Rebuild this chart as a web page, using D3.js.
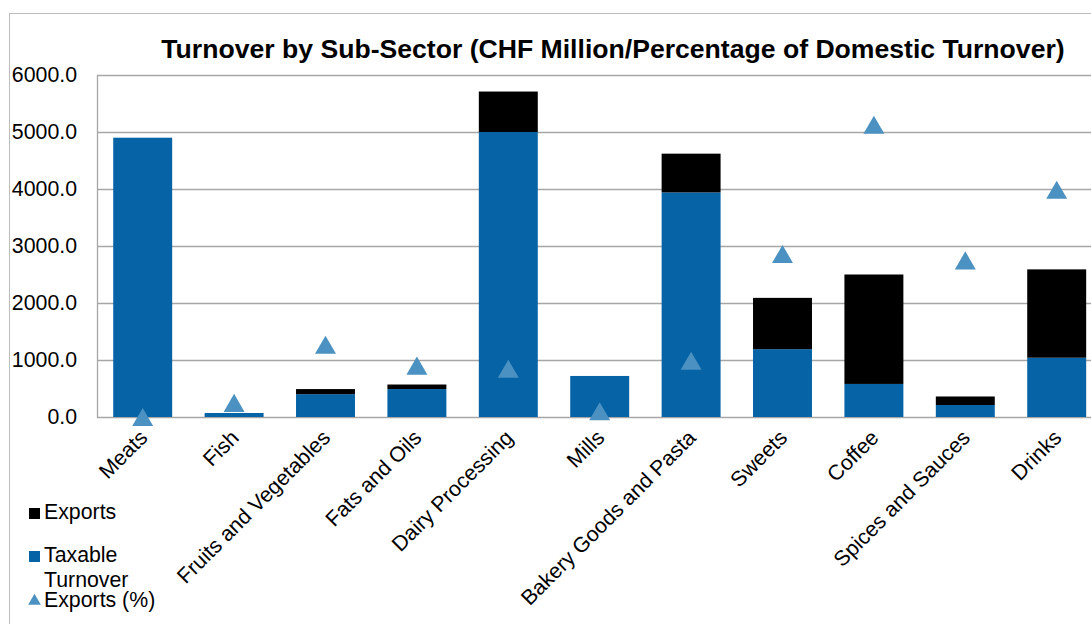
<!DOCTYPE html>
<html>
<head>
<meta charset="utf-8">
<script src="https://cdn.jsdelivr.net/npm/d3@7"></script>
<style>
  html, body { margin: 0; padding: 0; background: #fff; }
  svg { display: block; }
  text { font-family: "Liberation Sans", Arial, sans-serif; fill: #000; }
</style>
</head>
<body>
<svg id="chart" width="1091" height="624"></svg>
<script>
const categories = ["Meats", "Fish", "Fruits and Vegetables", "Fats and Oils", "Dairy Processing", "Mills", "Bakery Goods and Pasta", "Sweets", "Coffee", "Spices and Sauces", "Drinks"];
const taxableTurnover = [4900, 70, 400, 490, 5000, 720, 3940, 1190, 580, 210, 1040];
const exportsValues = [0, 0, 90, 80, 710, 0, 680, 900, 1920, 150, 1550];
const exportsPct = [0, 3.7, 19.0, 13.5, 12.7, 1.5, 14.8, 42.9, 76.9, 41.2, 59.8];
const yTicks = [0, 1000, 2000, 3000, 4000, 5000, 6000];
const title = "Turnover by Sub-Sector (CHF Million/Percentage of Domestic Turnover)";
const legendItems = [
  { key: "Exports", lines: ["Exports"] },
  { key: "Taxable", lines: ["Taxable", "Turnover"] },
  { key: "Pct", lines: ["Exports (%)"] }
];

const colors = { taxable: "#0563a6", exports: "#000000", pct: "#4b91c1", grid: "#a6a6a6", border: "#bdbdbd" };

const svg = d3.select("#chart");
const plot = { left: 97, top: 75, bottom: 417 };
const step = 91.4;

const x = d3.scaleBand()
  .domain(categories)
  .range([plot.left, plot.left + step * categories.length])
  .paddingInner(0.355)
  .paddingOuter(0.1775);

const y = d3.scaleLinear().domain([0, 6000]).range([plot.bottom, plot.top]);
const y2 = d3.scaleLinear().domain([0, 90]).range([plot.bottom, plot.top]);

// outer chart border
svg.append("rect")
  .attr("x", 9.5).attr("y", 13.5)
  .attr("width", 1200).attr("height", 700)
  .attr("fill", "none").attr("stroke", colors.border).attr("stroke-width", 1);

// gridlines
svg.append("g").selectAll("line").data(yTicks).join("line")
  .attr("x1", plot.left).attr("x2", 1091)
  .attr("y1", d => Math.round(y(d)) + 0.5).attr("y2", d => Math.round(y(d)) + 0.5)
  .attr("stroke", colors.grid).attr("stroke-width", 1.3);

// y axis line
svg.append("line")
  .attr("x1", plot.left + 0.5).attr("x2", plot.left + 0.5)
  .attr("y1", plot.top).attr("y2", plot.bottom + 1)
  .attr("stroke", colors.grid).attr("stroke-width", 1.3);

// y axis labels
const yAxis = d3.axisLeft(y).tickValues(yTicks).tickFormat(d3.format(".1f")).tickSize(0).tickPadding(20);
const gy = svg.append("g").attr("transform", `translate(${plot.left},0)`).call(yAxis);
gy.select(".domain").remove();
gy.selectAll("text")
  .style("font-family", '"Liberation Sans", Arial, sans-serif')
  .style("font-size", "21.3px").attr("fill", "#000");

// bars
const gBars = svg.append("g");
gBars.selectAll("rect.tax").data(categories).join("rect")
  .attr("class", "tax")
  .attr("x", d => x(d)).attr("width", x.bandwidth())
  .attr("y", (d, i) => y(taxableTurnover[i]))
  .attr("height", (d, i) => y(0) - y(taxableTurnover[i]))
  .attr("fill", colors.taxable);
gBars.selectAll("rect.exp").data(categories).join("rect")
  .attr("class", "exp")
  .attr("x", d => x(d)).attr("width", x.bandwidth())
  .attr("y", (d, i) => y(taxableTurnover[i] + exportsValues[i]))
  .attr("height", (d, i) => y(taxableTurnover[i]) - y(taxableTurnover[i] + exportsValues[i]))
  .attr("fill", colors.exports);

// triangles
const tri = d3.symbol().type(d3.symbolTriangle).size(190);
svg.append("g").selectAll("path").data(categories).join("path")
  .attr("d", tri)
  .attr("transform", (d, i) => `translate(${x(d) + x.bandwidth() / 2},${y2(exportsPct[i]) + 3})`)
  .attr("fill", colors.pct);

// x labels
const xAxis = d3.axisBottom(x).tickSize(0).tickPadding(0);
const gx = svg.append("g").attr("transform", `translate(0,${plot.bottom})`).call(xAxis);
gx.select(".domain").remove();
gx.selectAll("text")
  .style("font-family", '"Liberation Sans", Arial, sans-serif')
  .style("font-size", "21.3px").attr("fill", "#000")
  .attr("text-anchor", "end")
  .attr("dy", 0)
  .attr("y", 0)
  .attr("transform", "translate(6,22) rotate(-45)");

// title
svg.append("text")
  .attr("x", 613).attr("y", 58)
  .attr("text-anchor", "middle")
  .style("font-weight", "bold").style("font-size", "26.6px")
  .text(title);

// legend
const lg = svg.append("g");
const legendRows = [
  { item: legendItems[0], y: 519 },
  { item: legendItems[1], y: 562 },
  { item: legendItems[2], y: 607 }
];
legendRows.forEach(r => {
  if (r.item.key === "Exports") {
    lg.append("rect").attr("x", 29).attr("y", r.y - 11).attr("width", 11).attr("height", 11).attr("fill", colors.exports);
  } else if (r.item.key === "Taxable") {
    lg.append("rect").attr("x", 29).attr("y", r.y - 11).attr("width", 11).attr("height", 11).attr("fill", colors.taxable);
  } else {
    lg.append("path").attr("d", d3.symbol().type(d3.symbolTriangle).size(70)())
      .attr("transform", `translate(34.5,${r.y - 6})`).attr("fill", colors.pct);
  }
  r.item.lines.forEach((ln, j) => {
    lg.append("text").attr("x", 44).attr("y", r.y + j * 25)
      .style("font-size", "21.3px").text(ln);
  });
});
</script>
</body>
</html>
